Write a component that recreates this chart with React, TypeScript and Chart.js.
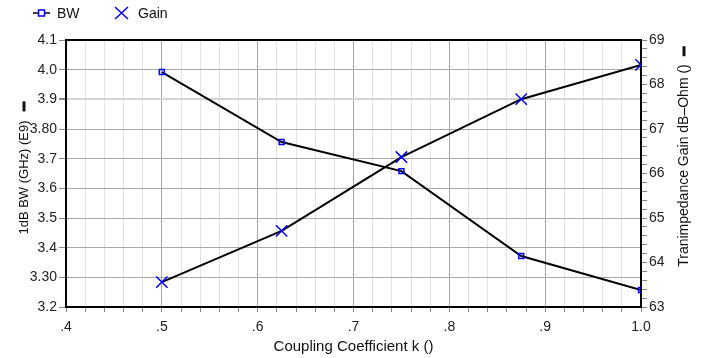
import React, { useEffect, useRef } from "react";
import { Chart, registerables } from "chart.js";

Chart.register(...registerables);

const kValues = [0.5, 0.625, 0.75, 0.875, 1.0];
const bwValues = [3.992, 3.756, 3.658, 3.372, 3.257];
const gainValues = [63.56, 64.71, 66.37, 67.67, 68.44];

const leftTickLabels: Record<string, string> = {
  "3.2": "3.2", "3.3": "3.30", "3.4": "3.4", "3.5": "3.5", "3.6": "3.6",
  "3.7": "3.7", "3.8": "3.80", "3.9": "3.9", "4.0": "4.0", "4.1": "4.1",
};
const xTickLabels: Record<string, string> = {
  "0.4": ".4", "0.5": ".5", "0.6": ".6", "0.7": ".7", "0.8": ".8", "0.9": ".9", "1.0": "1.0",
};

const legendItems = [
  { label: "BW", style: "rect" },
  { label: "Gain", style: "cross" },
];
const leftTitle = "1dB BW (GHz) (E9)";
const rightTitle = "Tranimpedance Gain dB\u2013Ohm ()";
const xTitle = "Coupling Coefficient k ()";

const BLUE = "#0000ff";
const FONT = "'Liberation Sans', Arial, sans-serif";

const isMajorX = (v: number) => Math.abs(v * 10 - Math.round(v * 10)) < 1e-6;
const isInt = (v: number) => Math.abs(v - Math.round(v)) < 1e-6;

const decorPlugin = {
  id: "decor",
  beforeDatasetsDraw(chart: any) {
    const { ctx, chartArea } = chart;
    ctx.save();
    ctx.strokeStyle = "#000";
    ctx.lineWidth = 2;
    ctx.beginPath();
    ctx.moveTo(chartArea.left - 1, chartArea.top);
    ctx.lineTo(chartArea.right + 1, chartArea.top);
    ctx.stroke();
    ctx.restore();
  },
  afterDraw(chart: any) {
    const { ctx, chartArea } = chart;
    ctx.save();
    // Legend
    ctx.font = `14px ${FONT}`;
    ctx.textBaseline = "middle";
    ctx.fillStyle = "#111";
    const ly = 13;
    ctx.strokeStyle = "#000";
    ctx.lineWidth = 1.5;
    ctx.beginPath();
    ctx.moveTo(33, ly);
    ctx.lineTo(50, ly);
    ctx.stroke();
    ctx.fillStyle = "#fff";
    ctx.fillRect(38.5, ly - 3, 6, 6);
    ctx.strokeStyle = BLUE;
    ctx.lineWidth = 1.5;
    ctx.strokeRect(38.5, ly - 3, 6, 6);
    ctx.fillStyle = "#111";
    ctx.textAlign = "left";
    ctx.fillText(legendItems[0].label, 57, ly + 1);
    ctx.strokeStyle = BLUE;
    ctx.lineWidth = 1.5;
    ctx.beginPath();
    ctx.moveTo(115, ly - 6);
    ctx.lineTo(128, ly + 6);
    ctx.moveTo(128, ly - 6);
    ctx.lineTo(115, ly + 6);
    ctx.stroke();
    ctx.fillText(legendItems[1].label, 138, ly + 1);

    // Left title
    ctx.font = `13px ${FONT}`;
    ctx.fillStyle = "#111";
    ctx.save();
    ctx.translate(24, (chartArea.top + chartArea.bottom) / 2 + 4);
    ctx.rotate(-Math.PI / 2);
    ctx.textAlign = "center";
    const lw = ctx.measureText(leftTitle).width;
    ctx.fillText(leftTitle, 0, 0);
    ctx.fillRect(lw / 2 + 9, -1.5, 10, 3);
    ctx.restore();

    // Right title
    ctx.font = `14px ${FONT}`;
    ctx.save();
    ctx.translate(684, (chartArea.top + chartArea.bottom) / 2 - 8);
    ctx.rotate(-Math.PI / 2);
    ctx.textAlign = "center";
    const rw = ctx.measureText(rightTitle).width;
    ctx.fillText(rightTitle, 0, 0);
    ctx.fillRect(rw / 2 + 8, -1.5, 10, 3);
    ctx.restore();

    // X title
    ctx.font = `15px 'Liberation Sans Narrow', ${FONT}`;
    ctx.textAlign = "center";
    ctx.fillText(xTitle, (chartArea.left + chartArea.right) / 2, chartArea.bottom + 40);
    ctx.restore();
  },
};

export default function App() {
  const ref = useRef<HTMLCanvasElement>(null);
  useEffect(() => {
    document.body.style.margin = "0";
    const chart = new Chart(ref.current!, {
      type: "line",
      data: {
        datasets: [
          {
            label: "BW",
            data: kValues.map((k, i) => ({ x: k, y: bwValues[i] })),
            yAxisID: "y",
            borderColor: "#000",
            borderWidth: 2,
            pointStyle: "rect",
            pointRadius: 3.5,
            pointBorderColor: BLUE,
            pointBackgroundColor: "rgba(255,255,255,0)",
            pointBorderWidth: 1.5,
          },
          {
            label: "Gain",
            data: kValues.map((k, i) => ({ x: k, y: gainValues[i] })),
            yAxisID: "y2",
            borderColor: "#000",
            borderWidth: 2,
            pointStyle: "cross",
            pointRotation: 45,
            pointRadius: 8,
            pointBorderColor: BLUE,
            pointBorderWidth: 1.5,
          },
        ],
      },
      options: {
        animation: false,
        responsive: false,
        maintainAspectRatio: false,
        layout: { padding: { top: 40, left: 0, right: 0, bottom: 0 } },
        plugins: { legend: { display: false }, tooltip: { enabled: false } },
        scales: {
          x: {
            type: "linear",
            min: 0.4,
            max: 1.0,
            afterFit: (s: any) => { s.height = 51; },
            ticks: {
              stepSize: 0.02,
              autoSkip: false,
              maxRotation: 0,
              padding: 7,
              color: "#222",
              font: { size: 14, family: FONT },
              callback: (v: any) => {
                const n = Number(v);
                return isMajorX(n) ? xTickLabels[n.toFixed(1)] ?? "" : "";
              },
            },
            grid: {
              color: (c: any) => (isMajorX(c.tick.value) ? "#a8a8a8" : "#e4e4e4"),
              lineWidth: 1,
              tickLength: 5,
              tickColor: "#888",
            },
            border: { color: "#000", width: 2 },
          },
          y: {
            type: "linear",
            position: "left",
            min: 3.2,
            max: 4.1,
            afterFit: (s: any) => { s.width = 66; },
            ticks: {
              stepSize: 0.1,
              padding: 2,
              color: "#222",
              font: { size: 14, family: FONT },
              callback: (v: any) => leftTickLabels[Number(v).toFixed(1)] ?? "",
            },
            grid: {
              color: (c: any) => (Math.abs(c.tick.value - 3.9) < 1e-6 ? "#d4d4d4" : "#a8a8a8"),
              lineWidth: (c: any) => (Math.abs(c.tick.value - 3.9) < 1e-6 ? 2 : 1),
              tickLength: 7,
              tickColor: "#888",
            },
            border: { color: "#000", width: 2 },
          },
          y2: {
            type: "linear",
            position: "right",
            min: 63,
            max: 69,
            afterFit: (s: any) => { s.width = 62; },
            ticks: {
              stepSize: 0.2,
              autoSkip: false,
              padding: 2,
              color: "#222",
              font: { size: 14, family: FONT },
              callback: (v: any) => (isInt(Number(v)) ? String(Math.round(Number(v))) : ""),
            },
            grid: {
              drawOnChartArea: false,
              tickLength: 6,
              tickColor: "#888",
            },
            border: { color: "#000", width: 2 },
          },
        },
      },
      plugins: [decorPlugin],
    } as any);
    return () => chart.destroy();
  }, []);
  return (
    <div style={{ width: 703, height: 358 }}>
      <canvas ref={ref} width={703} height={358} />
    </div>
  );
}
